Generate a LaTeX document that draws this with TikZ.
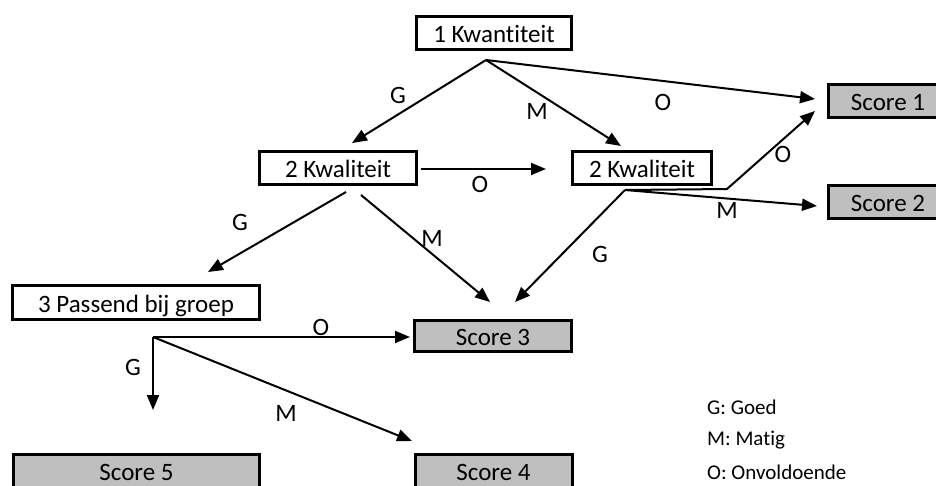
\documentclass[tikz,border=0pt]{standalone}
\usepackage{fontspec}
\setmainfont[Ligatures={NoCommon}]{Carlito}
\usetikzlibrary{arrows.meta}
\definecolor{boxgray}{RGB}{191,191,191}
\begin{document}
\begin{tikzpicture}[x=1pt,y=-1pt,
 box/.style={draw,line width=3pt,rectangle,inner sep=0pt,minimum height=33pt,
   text height=19pt,text depth=0pt,font=\fontsize{25}{30}\selectfont},
 score/.style={box,fill=boxgray},
 conn/.style={line width=2pt,-{Triangle[length=15pt,width=12pt]}},
 lbl/.style={font=\fontsize{25}{30}\selectfont,inner sep=0pt},
 leg/.style={font=\fontsize{21}{25}\selectfont,anchor=west,inner sep=0pt}]
\useasboundingbox (0,0) rectangle (936,485);
\clip (0,0) rectangle (936,485);
% boxes
\node[box,minimum width=155pt] (k1) at (494,32.5) {1 Kwantiteit};
\node[box,minimum width=157pt] (k2l) at (338,167.5) {2 Kwaliteit};
\node[box,minimum width=139pt] (k2r) at (642,167.5) {2 Kwaliteit};
\node[score,minimum width=120pt] (s1) at (888,100.5) {Score 1};
\node[score,minimum width=120pt] (s2) at (888,201.5) {Score 2};
\node[box,minimum width=247pt,minimum height=34pt] (p3) at (136,302.5) {3 Passend bij groep};
\node[score,minimum width=157pt,minimum height=31pt] (s3) at (493,336) {Score 3};
\node[score,minimum width=246pt] (s5) at (136.5,470.5) {Score 5};
\node[score,minimum width=157pt] (s4) at (493.5,470.5) {Score 4};
% coordinates
\coordinate (b1) at (486,60);
\coordinate (t1g) at (352,143);
\coordinate (t1m) at (621,146);
\coordinate (t1o) at (815,99);
\coordinate (ka) at (421,169);
\coordinate (kb) at (546,169);
\coordinate (lg) at (346,192);
\coordinate (lm) at (361,195);
\coordinate (tlg) at (208,272);
\coordinate (tlm) at (490,302);
\coordinate (b2) at (625,190);
\coordinate (trg) at (515,302);
\coordinate (cr) at (727,189);
\coordinate (tro) at (815,111);
\coordinate (trm) at (817,206);
\coordinate (b3) at (153,337);
\coordinate (tpo) at (410,337);
\coordinate (tpg) at (153,410);
\coordinate (tpm) at (412,441);
% connectors
\draw[conn] (b1) -- (t1g);
\draw[conn] (b1) -- (t1m);
\draw[conn] (b1) -- (t1o);
\draw[conn] (ka) -- (kb);
\draw[conn] (lg) -- (tlg);
\draw[conn] (lm) -- (tlm);
\draw[conn] (b2) -- (trg);
\draw[conn] (b2) -- (cr) -- (tro);
\draw[conn] (b2) -- (trm);
\draw[conn] (b3) -- (tpo);
\draw[conn] (b3) -- (tpg);
\draw[conn] (b3) -- (tpm);
% labels
\node[lbl] (l1) at (398,95) {G};
\node[lbl] (l2) at (537,111) {M};
\node[lbl] (l3) at (663,102) {O};
\node[lbl] (l4) at (480,184) {O};
\node[lbl] (l5) at (240,222) {G};
\node[lbl] (l6) at (432,238) {M};
\node[lbl] (l7) at (600,254) {G};
\node[lbl] (l8) at (783,154) {O};
\node[lbl] (l9) at (727,210) {M};
\node[lbl] (l10) at (321,327) {O};
\node[lbl] (l11) at (133,367) {G};
\node[lbl] (l12) at (286,413) {M};
% legend
\node[leg] (g1) at (707,407) {G: Goed};
\node[leg] (g2) at (707,440) {M: Matig};
\node[leg] (g3) at (707,472) {O: Onvoldoende};
\end{tikzpicture}
\end{document}
